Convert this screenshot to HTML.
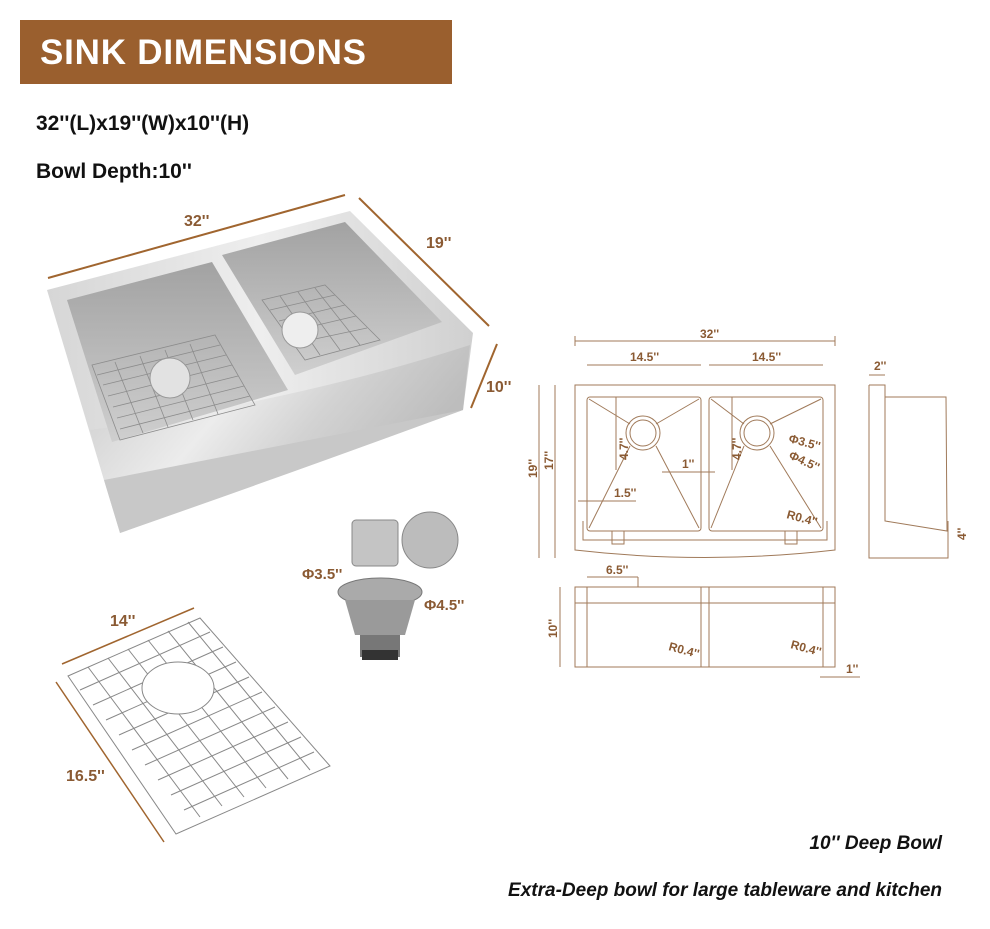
<!DOCTYPE html>
<html><head><meta charset="utf-8"><style>
body{margin:0;background:#fff;width:990px;height:924px;overflow:hidden;font-family:"Liberation Sans",sans-serif}
</style></head><body>
<svg width="990" height="924" viewBox="0 0 990 924" xmlns="http://www.w3.org/2000/svg" font-family="Liberation Sans, sans-serif">
<defs>
<linearGradient id="face" x1="0" y1="0" x2="1" y2="0.3">
<stop offset="0" stop-color="#c9c9c9"/><stop offset="0.45" stop-color="#ececec"/><stop offset="0.7" stop-color="#d2d2d2"/><stop offset="1" stop-color="#bdbdbd"/></linearGradient>
<linearGradient id="bowl" x1="0" y1="0" x2="0" y2="1">
<stop offset="0" stop-color="#a2a2a2"/><stop offset="1" stop-color="#cfcfcf"/></linearGradient>
<linearGradient id="top" x1="0" y1="0" x2="1" y2="0">
<stop offset="0" stop-color="#d6d6d6"/><stop offset="0.5" stop-color="#eeeeee"/><stop offset="1" stop-color="#d0d0d0"/></linearGradient>
</defs>
<rect x="20" y="20" width="432" height="64" fill="#9a5f2e"/>
<text x="40" y="64" fill="#fff" font-size="35" font-weight="bold" textLength="326">SINK DIMENSIONS</text>
<text x="36" y="130" font-size="21" font-weight="bold" fill="#111">32''(L)x19''(W)x10''(H)</text>
<text x="36" y="178" font-size="21" font-weight="bold" fill="#111">Bowl Depth:10''</text>

<!-- sink photo -->
<polygon points="47,290 350,211 473,333 463,410 120,533 104,480" fill="url(#top)"/>
<path d="M104,480 Q300,455 463,410 L470,345 Q300,400 90,430 Z" fill="url(#face)"/>
<path d="M104,480 L463,410 Q300,470 120,533 Z" fill="#c8c8c8"/>
<polygon points="67,300 212,262 288,390 112,442" fill="url(#bowl)"/>
<polygon points="222,255 345,222 442,322 295,375" fill="url(#bowl)"/>
<g stroke="#8c8c8c" stroke-width="0.8" fill="none">
<polygon points="92,365 215,335 255,405 120,440"/>
<path d="M97,375 L220,345 M103,385 L226,355 M108,396 L232,365 M113,407 L238,376 M117,418 L244,386 M120,429 L250,396 M115,362 L143,433 M140,356 L168,427 M165,350 L193,420 M190,344 L218,414"/>
<polygon points="262,300 325,285 380,340 305,360"/>
<path d="M270,310 L335,295 M279,321 L345,305 M288,332 L356,316 M296,343 L367,328 M280,296 L320,355 M298,292 L340,350 M315,288 L360,345"/>
</g>
<circle cx="170" cy="378" r="20" fill="#e2e2e2" stroke="#999"/>
<circle cx="300" cy="330" r="18" fill="#eee" stroke="#999"/>
<g stroke="#a0652f" stroke-width="2" fill="#a0652f">
<line x1="48" y1="278" x2="345" y2="195"/>
<line x1="359" y1="198" x2="489" y2="326"/>
<line x1="497" y1="344" x2="471" y2="408"/>
</g>
<text x="184" y="226" font-size="16" font-weight="bold" fill="#8a5a33">32''</text>
<text x="426" y="248" font-size="16" font-weight="bold" fill="#8a5a33">19''</text>
<text x="486" y="392" font-size="16" font-weight="bold" fill="#8a5a33">10''</text>

<!-- strainer -->
<rect x="352" y="520" width="46" height="46" rx="4" fill="#c4c4c4" stroke="#888"/>
<ellipse cx="430" cy="540" rx="28" ry="28" fill="#bcbcbc" stroke="#888"/>
<ellipse cx="380" cy="592" rx="42" ry="14" fill="#aaa" stroke="#777"/>
<path d="M345,600 L415,600 L405,635 L355,635 Z" fill="#9a9a9a"/>
<rect x="360" y="635" width="40" height="22" fill="#777"/>
<rect x="362" y="650" width="36" height="10" fill="#333"/>
<text x="302" y="579" font-size="15" font-weight="bold" fill="#8a5a33">Φ3.5''</text>
<text x="424" y="610" font-size="15" font-weight="bold" fill="#8a5a33">Φ4.5''</text>

<!-- grid -->
<g stroke="#888" stroke-width="1" fill="none">
<polygon points="68,676 200,618 330,766 176,834"/>
<path d="M88,667 L200,817 M108,658 L222,806 M128,649 L244,797 M148,640 L266,788 M168,631 L288,779 M188,622 L310,770"/>
<path d="M80,690 L210,632 M93,705 L223,647 M106,720 L236,662 M119,735 L249,677 M132,750 L262,692 M145,765 L275,707 M158,780 L288,722 M171,795 L301,737 M184,810 L314,752"/>
</g>
<ellipse cx="178" cy="688" rx="36" ry="26" fill="#fff" stroke="#888"/>
<g stroke="#a0652f" stroke-width="1.5">
<line x1="62" y1="664" x2="194" y2="608"/>
<line x1="56" y1="682" x2="164" y2="842"/>
</g>
<text x="110" y="626" font-size="16" font-weight="bold" fill="#8a5a33">14''</text>
<text x="66" y="781" font-size="16" font-weight="bold" fill="#8a5a33">16.5''</text>

<!-- technical drawing -->
<g stroke="#a07a5a" stroke-width="1" fill="none">
<line x1="575" y1="341" x2="835" y2="341"/><line x1="575" y1="336" x2="575" y2="346"/><line x1="835" y1="336" x2="835" y2="346"/>
<line x1="587" y1="365" x2="701" y2="365"/><line x1="709" y1="365" x2="823" y2="365"/>
<path d="M575,385 L835,385 L835,550 Q705,565 575,550 Z"/>
<rect x="587" y="397" width="114" height="134" rx="3"/>
<rect x="709" y="397" width="114" height="134" rx="3"/>
<path d="M583,521 L583,540 L827,540 L827,521"/>
<rect x="612" y="531" width="12" height="13"/><rect x="785" y="531" width="12" height="13"/>
<circle cx="643" cy="433" r="17"/><circle cx="643" cy="433" r="13"/>
<circle cx="757" cy="433" r="17"/><circle cx="757" cy="433" r="13"/>
<path d="M589,399 L630,424 M699,399 L656,424 M630,446 L589,528 M656,446 L699,528"/>
<path d="M711,399 L744,424 M821,399 L770,424 M744,446 L711,528 M770,446 L821,528"/>
<line x1="555" y1="385" x2="555" y2="558"/><line x1="539" y1="385" x2="539" y2="558"/>
<line x1="578" y1="501" x2="636" y2="501"/><line x1="662" y1="472" x2="715" y2="472"/>
<line x1="616" y1="397" x2="616" y2="470"/><line x1="732" y1="397" x2="732" y2="470"/>
<path d="M869,385 L885,385 L885,397 L946,397 L947,531 L885,521 L885,385 M869,385 L869,558 L948,558 L948,521"/>
<line x1="869" y1="375" x2="885" y2="375"/>
<rect x="575" y="587" width="260" height="80"/>
<line x1="575" y1="603" x2="835" y2="603"/>
<line x1="701" y1="587" x2="701" y2="667"/><line x1="709" y1="587" x2="709" y2="667"/>
<line x1="587" y1="587" x2="587" y2="667"/><line x1="823" y1="587" x2="823" y2="667"/>
<line x1="587" y1="577" x2="638" y2="577"/><line x1="638" y1="577" x2="638" y2="587"/>
<line x1="560" y1="587" x2="560" y2="667"/>
<line x1="820" y1="677" x2="860" y2="677"/>
</g>
<g font-size="12" font-weight="bold" fill="#8a5a33">
<text x="700" y="338">32''</text>
<text x="630" y="361">14.5''</text>
<text x="752" y="361">14.5''</text>
<text x="874" y="370">2''</text>
<text x="614" y="497">1.5''</text>
<text x="682" y="468">1''</text>
<text x="788" y="442" transform="rotate(15 788 442)">Φ3.5''</text>
<text x="788" y="458" transform="rotate(25 788 458)">Φ4.5''</text>
<text x="786" y="518" transform="rotate(15 786 518)">R0.4''</text>
<text x="668" y="650" transform="rotate(15 668 650)">R0.4''</text>
<text x="790" y="648" transform="rotate(15 790 648)">R0.4''</text>
<text x="606" y="574">6.5''</text>
<text x="846" y="673">1''</text>
<text x="537" y="478" transform="rotate(-90 537 478)">19''</text>
<text x="553" y="470" transform="rotate(-90 553 470)">17''</text>
<text x="557" y="638" transform="rotate(-90 557 638)">10''</text>
<text x="628" y="460" transform="rotate(-90 628 460)">4.7''</text>
<text x="741" y="460" transform="rotate(-90 741 460)">4.7''</text>
<text x="966" y="540" transform="rotate(-90 966 540)">4''</text>
</g>
<text x="942" y="849" text-anchor="end" font-size="19" font-weight="bold" font-style="italic" fill="#111">10'' Deep Bowl</text>
<text x="942" y="896" text-anchor="end" font-size="19" font-weight="bold" font-style="italic" fill="#111">Extra-Deep bowl for large tableware and kitchen</text>
</svg>
</body></html>
